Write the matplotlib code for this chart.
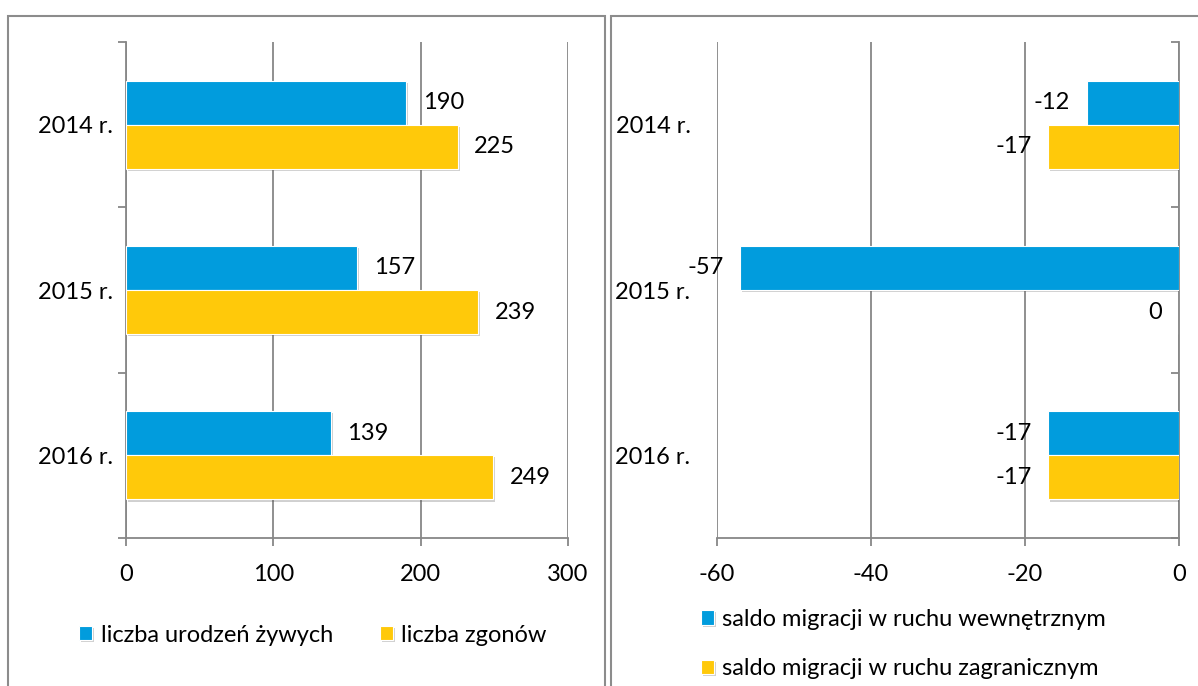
import matplotlib
matplotlib.use("Agg")
import matplotlib.pyplot as plt
import matplotlib.patheffects as pe
from matplotlib.patches import Rectangle
from matplotlib.ticker import FixedLocator
import numpy as np

plt.rcParams['font.family'] = ['Lato', 'DejaVu Sans']

# data
years = ['2014 r.', '2015 r.', '2016 r.']
births = [190, 157, 139]
deaths = [225, 239, 249]
internal_mig = [-12, -57, -17]
foreign_mig = [-17, 0, -17]

labels_left = ['liczba urodzeń żywych', 'liczba zgonów']
labels_right = ['saldo migracji w ruchu wewnętrznym', 'saldo migracji w ruchu zagranicznym']

BLUE = '#019CDD'
YELLOW = '#FFC90A'
GRID = '#878787'
FS = 17

W, H = 1198, 686
fig = plt.figure(figsize=(W / 100, H / 100), dpi=100)


def px(x0, y0, x1, y1):
    # pixel box -> figure fraction rect
    return [x0 / W, 1 - y1 / H, (x1 - x0) / W, (y1 - y0) / H]


# panel borders
fig.add_artist(Rectangle((8 / W, -0.05), (605 - 8) / W, 1.05 - 16 / H,
                         transform=fig.transFigure, fill=False,
                         edgecolor='#8c8c8c', linewidth=1.5))
fig.add_artist(Rectangle((611 / W, -0.05), 0.6, 1.05 - 16 / H,
                         transform=fig.transFigure, fill=False,
                         edgecolor='#8c8c8c', linewidth=1.5))

shadow = [pe.SimplePatchShadow(offset=(1.5, -1.5), alpha=0.25, shadow_rgbFace='#444444'),
          pe.Normal()]

y = np.arange(len(years))
h = 0.267


def style_axis(ax):
    for s in ['top', 'left', 'right', 'bottom']:
        ax.spines[s].set_visible(False)
    ax.set_ylim(2.5, -0.5)
    ax.grid(axis='x', color=GRID, linewidth=1.3, zorder=0)
    ax.set_axisbelow(True)
    ax.spines['bottom'].set_visible(True)
    ax.spines['bottom'].set_color(GRID)
    ax.spines['bottom'].set_linewidth(1.3)
    ax.tick_params(axis='x', colors=GRID, length=5.5, width=1.3,
                   labelsize=FS, labelcolor='black', pad=13)


# ---- left chart ----
ax1 = fig.add_axes(px(126, 42, 568, 538))
b1 = ax1.barh(y - h / 2, births, height=h, color=BLUE, edgecolor='white',
              linewidth=0.8, label=labels_left[0], zorder=3)
b2 = ax1.barh(y + h / 2, deaths, height=h, color=YELLOW, edgecolor='white',
              linewidth=0.8, label=labels_left[1], zorder=3)
for bars in (b1, b2):
    for p in bars:
        p.set_path_effects(shadow)
style_axis(ax1)
ax1.set_xlim(0, 300)
ax1.set_xticks([0, 100, 200, 300])
ax1.spines['left'].set_visible(True)
ax1.spines['left'].set_color(GRID)
ax1.spines['left'].set_linewidth(1.3)
ax1.yaxis.set_major_locator(FixedLocator([-0.5, 0.5, 1.5, 2.5]))
ax1.yaxis.set_minor_locator(FixedLocator(list(y)))
ax1.set_yticklabels([])
ax1.set_yticklabels(years, minor=True)
ax1.tick_params(axis='y', which='major', colors=GRID, length=5.5, width=1.3)
ax1.tick_params(axis='y', which='minor', length=0, labelsize=FS, pad=9)
for bars, vals in ((b1, births), (b2, deaths)):
    for p, v in zip(bars, vals):
        ax1.annotate(str(v), xy=(v, p.get_y() + p.get_height() / 2),
                     xytext=(12, 0), textcoords='offset points',
                     ha='left', va='center', fontsize=FS)
ax1.legend(loc='center', bbox_to_anchor=(313 / W, 1 - 635 / H),
           bbox_transform=fig.transFigure, ncol=2, frameon=False,
           fontsize=FS, handlelength=0.55, handleheight=0.55,
           handletextpad=0.35, columnspacing=2.0)

# ---- right chart ----
ax2 = fig.add_axes(px(717, 42, 1179, 538))
c1 = ax2.barh(y - h / 2, internal_mig, height=h, color=BLUE, edgecolor='white',
              linewidth=0.8, label=labels_right[0], zorder=3)
c2 = ax2.barh(y + h / 2, foreign_mig, height=h, color=YELLOW, edgecolor='white',
              linewidth=0.8, label=labels_right[1], zorder=3)
for bars in (c1, c2):
    for p in bars:
        p.set_path_effects(shadow)
style_axis(ax2)
ax2.set_xlim(-60, 0)
ax2.set_xticks([-60, -40, -20, 0])
ax2.set_xticklabels(['-60', '-40', '-20', '0'])
ax2.spines['right'].set_visible(True)
ax2.spines['right'].set_color(GRID)
ax2.spines['right'].set_linewidth(1.3)
ax2.yaxis.set_major_locator(FixedLocator([-0.5, 0.5, 1.5, 2.5]))
ax2.yaxis.set_minor_locator(FixedLocator(list(y)))
ax2.set_yticklabels([])
ax2.set_yticklabels(years, minor=True)
ax2.tick_params(axis='y', which='major', left=False, right=True, direction='in',
                colors=GRID, length=5.5, width=1.3)
ax2.tick_params(axis='y', which='minor', length=0, labelsize=FS, pad=19)
for bars, vals in ((c1, internal_mig), (c2, foreign_mig)):
    for p, v in zip(bars, vals):
        ax2.annotate(str(v), xy=(v, p.get_y() + p.get_height() / 2),
                     xytext=(-12, 0), textcoords='offset points',
                     ha='right', va='center', fontsize=FS)
ax2.legend(loc='center left', bbox_to_anchor=(680 / W, 1 - 644 / H),
           bbox_transform=fig.transFigure, ncol=1, frameon=False,
           fontsize=FS, handlelength=0.55, handleheight=0.55,
           handletextpad=0.35, labelspacing=1.2)

fig.savefig('out.png', dpi=100)
